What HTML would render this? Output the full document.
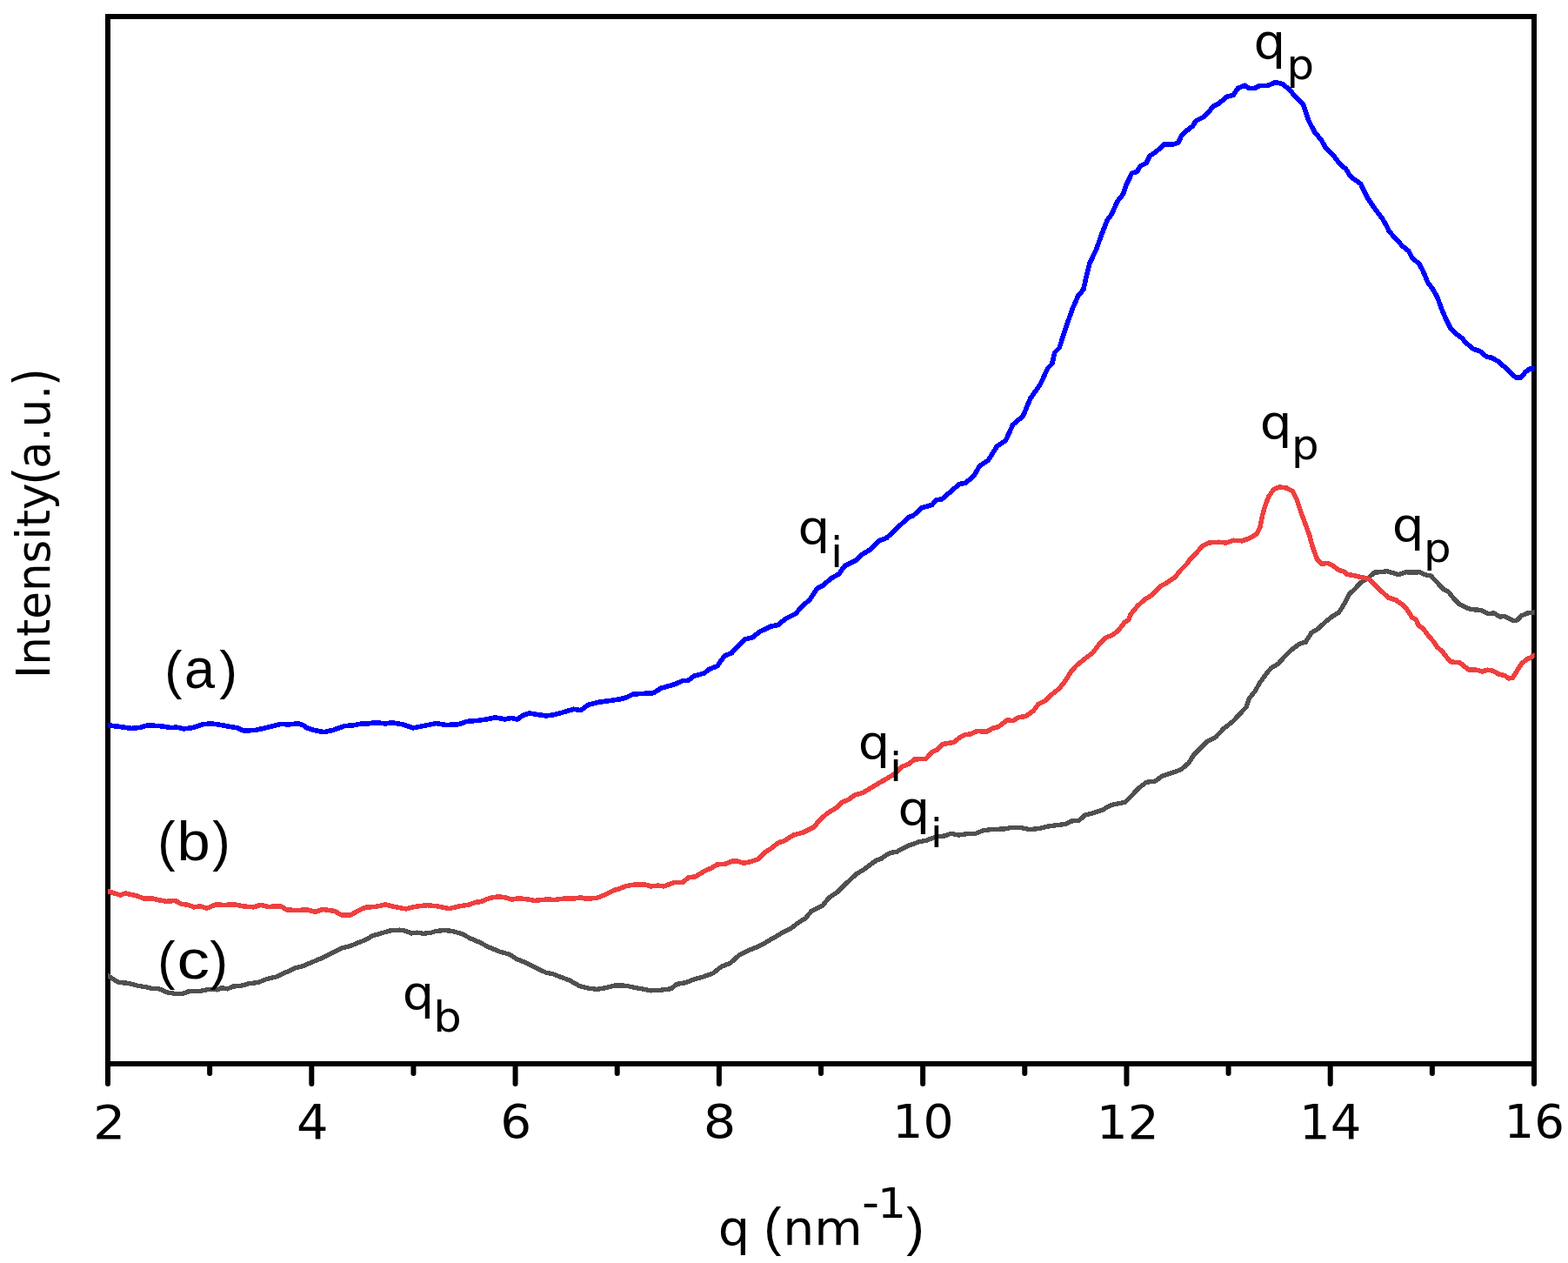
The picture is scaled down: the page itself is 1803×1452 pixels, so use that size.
<!DOCTYPE html>
<html lang="en">
<head>
<meta charset="utf-8">
<title>Intensity vs q</title>
<style>
html,body{margin:0;padding:0;background:#ffffff;}
body{width:1803px;height:1452px;overflow:hidden;font-family:'DejaVu Sans','Liberation Sans',sans-serif;}
svg{display:block;}
svg text{fill:#000000;}
</style>
</head>
<body>
<svg width="1803" height="1452" viewBox="0 0 1803 1452">
<rect x="0" y="0" width="1803" height="1452" fill="#ffffff"/>
<g id="axes" fill="none" stroke="#000000" stroke-width="6">
<rect x="124.0" y="19.0" width="1640.0" height="1204.0" stroke-linejoin="miter"/>
<g stroke-linecap="round">
<line x1="124.00" y1="1223.0" x2="124.00" y2="1246.0"/>
<line x1="241.14" y1="1223.0" x2="241.14" y2="1234.0"/>
<line x1="358.29" y1="1223.0" x2="358.29" y2="1246.0"/>
<line x1="475.43" y1="1223.0" x2="475.43" y2="1234.0"/>
<line x1="592.57" y1="1223.0" x2="592.57" y2="1246.0"/>
<line x1="709.71" y1="1223.0" x2="709.71" y2="1234.0"/>
<line x1="826.86" y1="1223.0" x2="826.86" y2="1246.0"/>
<line x1="944.00" y1="1223.0" x2="944.00" y2="1234.0"/>
<line x1="1061.14" y1="1223.0" x2="1061.14" y2="1246.0"/>
<line x1="1178.29" y1="1223.0" x2="1178.29" y2="1234.0"/>
<line x1="1295.43" y1="1223.0" x2="1295.43" y2="1246.0"/>
<line x1="1412.57" y1="1223.0" x2="1412.57" y2="1234.0"/>
<line x1="1529.71" y1="1223.0" x2="1529.71" y2="1246.0"/>
<line x1="1646.86" y1="1223.0" x2="1646.86" y2="1234.0"/>
<line x1="1764.00" y1="1223.0" x2="1764.00" y2="1246.0"/>
</g>
</g>
<defs><clipPath id="plotclip"><rect x="124" y="19" width="1640.6" height="1204"/></clipPath></defs>
<g id="curves" shape-rendering="crispEdges" clip-path="url(#plotclip)">
<polyline points="120.2,1120.2 124.2,1121.6 130.0,1125.7 136.6,1129.6 146.6,1130.2 158.3,1133.2 168.3,1134.9 174.9,1136.5 183.2,1136.9 191.5,1140.7 203.2,1142.7 211.5,1142.0 216.5,1139.9 229.8,1139.5 239.8,1137.4 249.8,1137.9 254.8,1135.7 261.4,1136.9 268.1,1134.0 276.4,1133.5 286.4,1130.7 296.4,1129.6 306.4,1125.7 318.0,1122.9 328.0,1118.2 339.6,1112.9 348.0,1110.7 359.6,1105.8 369.6,1101.6 379.6,1096.9 392.9,1090.0 402.9,1087.5 412.8,1083.3 420.0,1080.8 428.3,1075.8 438.3,1073.0 448.3,1070.0 459.9,1069.1 466.6,1070.3 473.2,1073.0 479.9,1072.1 486.6,1073.3 494.9,1072.5 501.5,1070.3 511.5,1069.6 519.8,1070.3 531.5,1073.8 541.5,1079.1 551.4,1083.3 561.4,1088.6 574.7,1094.1 586.4,1097.4 594.7,1102.9 604.7,1106.6 613.0,1111.1 628.0,1118.2 636.3,1119.9 644.6,1123.2 654.6,1126.9 666.3,1133.5 676.2,1136.0 686.2,1137.4 696.2,1135.7 707.9,1132.9 720.0,1133.2 730.0,1135.5 740.0,1137.2 748.3,1138.9 758.3,1138.4 771.6,1136.7 778.2,1131.4 788.2,1129.7 798.2,1125.9 808.2,1123.1 819.8,1118.9 829.8,1111.1 839.8,1107.3 849.8,1098.1 861.4,1092.3 869.8,1089.0 879.7,1084.0 889.7,1078.1 899.7,1072.3 909.7,1067.3 918.0,1060.7 926.3,1055.7 933.0,1047.4 946.3,1040.7 952.9,1032.4 962.9,1025.7 972.9,1015.7 984.6,1004.9 992.9,999.9 1002.9,992.4 1007.9,989.1 1012.8,987.5 1020.0,982.5 1024.2,980.4 1031.3,979.2 1041.9,973.3 1056.1,968.0 1065.0,966.3 1075.7,962.2 1086.3,960.9 1093.4,958.3 1102.3,960.0 1112.9,958.6 1121.8,958.3 1130.7,954.7 1141.3,953.5 1155.5,952.9 1164.4,951.2 1173.3,951.5 1183.9,953.5 1194.6,952.6 1203.5,950.3 1215.9,948.5 1224.8,947.6 1231.9,944.1 1240.7,943.2 1247.8,937.0 1258.5,934.3 1267.3,931.3 1278.0,925.4 1286.9,923.7 1294.0,921.9 1301.1,914.8 1310.0,905.5 1318.3,899.3 1328.3,898.0 1336.6,892.1 1346.6,888.8 1358.2,884.7 1366.6,877.2 1373.2,867.2 1383.2,857.2 1388.2,852.2 1398.2,847.2 1406.5,838.1 1418.1,828.9 1426.5,819.8 1433.1,813.1 1436.4,803.1 1443.1,794.8 1448.1,785.7 1454.7,776.5 1461.4,768.2 1469.7,763.2 1478.0,754.0 1484.7,747.4 1494.7,739.9 1501.3,738.2 1508.0,727.4 1516.3,722.4 1523.0,715.8 1531.3,709.1 1539.6,704.1 1546.3,693.3 1551.2,683.3 1557.4,677.6 1564.6,669.7 1573.3,664.6 1580.5,658.1 1587.7,657.7 1594.9,656.7 1602.1,658.8 1607.9,660.6 1616.5,657.8 1625.2,658.1 1632.4,657.8 1639.6,661.0 1645.4,662.0 1652.6,669.7 1659.8,677.6 1665.6,680.5 1671.3,687.7 1678.6,694.9 1687.2,699.2 1693.0,700.7 1703.1,701.4 1711.7,705.7 1717.5,704.7 1724.7,709.0 1730.5,708.6 1740.6,713.6 1744.9,712.9 1749.2,707.9 1756.4,705.0 1764.4,704.0 1768.4,703.8" fill="none" stroke="#505050" stroke-width="5.3" stroke-linejoin="round" stroke-linecap="butt"/>
<polyline points="120.2,1024.0 124.2,1024.6 131.6,1027.0 138.3,1029.1 144.1,1027.0 156.6,1029.6 164.9,1032.8 174.9,1032.8 183.2,1034.9 191.5,1036.3 201.5,1035.4 208.2,1039.1 216.5,1040.4 223.2,1042.9 229.8,1041.9 238.1,1044.1 248.1,1039.9 258.1,1040.4 269.8,1039.9 279.7,1041.9 291.4,1042.9 299.7,1040.4 308.0,1042.4 323.0,1041.9 329.7,1045.8 341.3,1046.6 352.9,1045.8 362.9,1048.3 371.2,1045.4 384.6,1047.4 392.9,1052.1 402.9,1052.1 411.2,1047.4 420.0,1043.3 431.6,1042.4 443.3,1039.9 453.3,1042.4 466.6,1044.9 476.6,1042.4 491.5,1040.7 503.2,1041.9 516.5,1044.6 528.2,1041.9 539.8,1039.9 546.5,1037.4 553.1,1036.6 563.1,1032.4 573.1,1030.8 581.4,1031.9 588.1,1034.1 596.4,1032.8 608.0,1034.1 614.7,1035.4 623.0,1034.6 631.3,1033.8 636.3,1034.6 649.6,1032.9 661.3,1032.9 667.9,1031.9 672.9,1033.3 686.2,1032.4 694.5,1029.1 706.2,1023.3 712.8,1021.6 720.0,1018.6 730.0,1016.9 741.6,1016.9 748.3,1018.9 756.6,1018.1 763.3,1018.9 774.9,1014.7 784.9,1014.7 791.5,1008.9 799.9,1007.7 809.9,1001.4 818.2,997.8 824.8,993.9 834.8,993.1 841.5,990.1 848.1,990.1 854.8,992.3 863.1,990.6 871.4,987.8 879.7,979.8 886.4,975.6 894.7,969.0 901.4,966.8 913.0,959.8 923.0,957.3 936.3,950.7 941.3,944.0 951.3,934.9 961.3,929.0 967.9,922.4 974.6,919.9 982.9,914.1 992.9,911.1 1002.9,904.9 1012.8,899.1 1020.0,894.9 1028.3,890.0 1036.6,881.7 1045.0,878.3 1051.6,873.0 1064.9,872.2 1071.6,864.7 1078.2,861.7 1084.1,855.5 1096.5,853.4 1103.2,848.1 1109.9,844.7 1116.5,843.9 1123.2,840.6 1134.8,841.1 1141.5,837.2 1148.1,835.6 1158.1,827.8 1164.8,828.6 1171.4,824.8 1179.7,823.4 1188.1,817.3 1193.9,809.8 1203.0,804.8 1209.7,798.1 1218.0,791.5 1224.7,783.2 1231.3,772.3 1238.0,764.9 1246.3,758.2 1256.3,750.7 1264.6,739.9 1271.2,733.2 1279.6,729.9 1286.2,724.6 1292.9,715.8 1297.9,712.4 1300.0,706.4 1308.3,696.4 1316.6,688.9 1325.0,683.9 1333.3,674.8 1343.3,668.9 1351.6,663.1 1356.6,656.5 1364.9,648.1 1368.2,643.1 1374.9,636.5 1383.2,627.3 1389.9,624.0 1401.5,623.2 1409.8,624.0 1418.1,621.2 1428.1,621.8 1436.4,619.0 1444.8,614.0 1448.9,606.5 1451.4,593.2 1454.7,581.6 1458.9,570.8 1464.7,562.4 1471.4,560.0 1479.7,561.1 1486.4,564.9 1491.3,574.9 1496.3,589.9 1501.3,603.2 1505.5,614.9 1509.7,629.8 1514.6,643.1 1519.6,648.5 1527.1,647.3 1532.9,650.6 1539.6,655.6 1546.3,657.3 1548.8,660.3 1557.4,661.7 1564.6,663.5 1573.3,665.3 1580.5,671.8 1587.7,679.0 1596.4,687.0 1605.0,689.8 1612.2,694.9 1618.0,700.7 1623.8,710.0 1628.1,712.2 1631.0,718.7 1636.7,723.0 1642.5,730.9 1648.3,737.4 1652.6,743.9 1658.4,749.0 1664.1,756.2 1668.5,760.9 1678.6,761.9 1688.6,769.9 1698.7,770.3 1704.5,772.0 1710.3,770.2 1716.0,771.0 1723.3,774.9 1730.5,776.8 1734.8,780.0 1739.1,779.3 1743.4,772.8 1749.2,763.4 1755.0,758.3 1760.7,755.5 1764.4,753.3 1768.4,752.1" fill="none" stroke="#ef3f3f" stroke-width="5.5" stroke-linejoin="round" stroke-linecap="butt"/>
<polyline points="120.2,833.6 124.2,833.8 136.6,835.3 151.6,837.4 161.6,836.3 169.9,833.8 186.6,834.9 196.5,836.6 203.2,836.1 211.5,837.9 221.5,836.6 233.1,832.8 243.1,831.9 253.1,833.3 266.4,835.8 273.1,836.9 279.7,839.9 293.0,839.6 306.4,836.6 323.0,832.4 331.3,832.9 343.0,831.9 348.0,833.3 352.9,836.9 362.9,839.9 372.9,841.6 382.9,839.4 396.2,834.6 406.2,833.8 416.2,831.9 420.0,832.4 431.6,830.7 443.3,831.9 450.8,830.7 463.3,832.9 474.9,836.9 486.6,834.6 501.5,831.6 513.2,833.6 528.2,832.6 536.5,829.4 549.8,828.3 559.8,826.9 569.8,824.9 580.6,826.9 588.1,825.4 594.7,827.1 601.4,822.4 608.9,819.9 616.3,821.3 628.0,822.9 636.3,821.9 649.6,818.3 659.6,815.3 667.9,816.6 676.2,810.3 689.6,807.1 702.9,805.3 712.8,803.8 720.0,802.0 728.3,798.0 751.6,796.7 759.9,791.3 776.6,786.4 784.9,782.7 791.5,782.2 798.2,777.2 809.9,773.9 814.8,769.7 824.8,765.6 833.1,753.9 841.5,750.6 846.5,744.8 856.4,734.8 864.8,733.1 873.1,726.5 886.4,720.1 894.7,718.5 903.0,711.5 914.7,705.7 921.3,698.2 931.3,689.0 939.6,676.5 946.3,673.2 954.6,665.7 964.6,659.9 971.2,650.7 984.6,644.1 991.2,637.4 1001.2,631.6 1011.2,621.6 1020.0,618.3 1020.0,617.9 1033.3,605.5 1044.9,594.6 1049.9,593.0 1059.9,583.8 1071.6,580.5 1076.6,575.0 1083.2,573.8 1089.9,568.0 1103.2,556.4 1109.8,555.5 1119.8,547.2 1126.5,535.6 1136.5,528.9 1146.4,513.1 1156.4,506.5 1164.7,488.2 1176.4,478.2 1184.7,458.2 1196.4,441.6 1204.7,423.3 1209.7,418.3 1213.0,405.0 1218.0,400.0 1224.6,380.0 1227.5,371.3 1233.3,354.7 1239.9,339.7 1245.8,333.0 1249.1,318.1 1253.2,302.2 1260.7,286.4 1266.6,269.8 1273.2,253.2 1278.2,246.5 1284.9,231.5 1291.5,223.2 1294.8,213.2 1301.5,199.1 1307.3,197.4 1311.5,190.8 1318.1,187.4 1322.3,179.1 1329.8,174.1 1338.9,165.8 1340.0,165.7 1348.3,166.2 1355.0,164.0 1358.3,156.5 1365.0,149.9 1371.6,144.9 1374.9,139.1 1383.3,134.9 1388.3,130.7 1394.9,122.4 1401.6,119.1 1409.9,111.6 1418.2,109.1 1423.2,101.6 1431.5,98.3 1436.5,101.6 1443.2,101.3 1448.2,98.6 1458.1,98.3 1466.5,94.6 1474.8,96.6 1483.1,103.3 1489.8,111.6 1498.1,119.1 1504.7,138.2 1511.4,151.5 1519.7,161.5 1524.7,170.7 1533.0,178.2 1539.7,187.3 1548.0,194.8 1553.0,203.1 1564.6,211.4 1572.9,228.1 1579.6,238.1 1589.6,251.4 1594.6,260.0 1597.4,266.2 1607.1,276.6 1612.6,282.9 1619.6,288.4 1623.7,296.1 1632.0,303.7 1636.2,311.3 1641.7,324.5 1647.3,332.1 1652.8,341.8 1658.4,357.1 1663.9,369.5 1668.1,377.9 1673.6,383.4 1680.6,388.3 1686.1,394.5 1694.4,401.4 1701.4,403.5 1709.7,410.4 1715.2,411.1 1723.5,416.0 1731.9,423.6 1738.8,429.9 1743.0,434.0 1748.5,434.0 1754.1,427.8 1758.2,424.3 1764.9,423.6 1768.9,423.4" fill="none" stroke="#0000ff" stroke-width="5.6" stroke-linejoin="round" stroke-linecap="butt"/>
</g>
<g id="labels">
<text class="tick"><tspan x="106.90" y="1308.80" font-family="'DejaVu Sans','Liberation Sans',sans-serif" font-size="53.78" textLength="37.35" lengthAdjust="spacingAndGlyphs">2</tspan></text>
<text class="tick"><tspan x="340.96" y="1308.80" font-family="'DejaVu Sans','Liberation Sans',sans-serif" font-size="54.90" textLength="36.61" lengthAdjust="spacingAndGlyphs">4</tspan></text>
<text class="tick"><tspan x="575.17" y="1308.01" font-family="'DejaVu Sans','Liberation Sans',sans-serif" font-size="52.72" textLength="35.91" lengthAdjust="spacingAndGlyphs">6</tspan></text>
<text class="tick"><tspan x="808.78" y="1308.01" font-family="'DejaVu Sans','Liberation Sans',sans-serif" font-size="52.72" textLength="37.54" lengthAdjust="spacingAndGlyphs">8</tspan></text>
<text class="tick"><tspan x="1026.32" y="1308.01" font-family="'DejaVu Sans','Liberation Sans',sans-serif" font-size="52.72" textLength="70.31" lengthAdjust="spacingAndGlyphs">10</tspan></text>
<text class="tick"><tspan x="1260.70" y="1308.80" font-family="'DejaVu Sans','Liberation Sans',sans-serif" font-size="53.78" textLength="72.03" lengthAdjust="spacingAndGlyphs">12</tspan></text>
<text class="tick"><tspan x="1494.04" y="1308.80" font-family="'DejaVu Sans','Liberation Sans',sans-serif" font-size="54.52" textLength="71.40" lengthAdjust="spacingAndGlyphs">14</tspan></text>
<text class="tick"><tspan x="1729.50" y="1308.01" font-family="'DejaVu Sans','Liberation Sans',sans-serif" font-size="52.72" textLength="69.41" lengthAdjust="spacingAndGlyphs">16</tspan></text>
<text class="xlabel"><tspan x="825.85" y="1430.70" font-family="'DejaVu Sans','Liberation Sans',sans-serif" font-size="54.29" textLength="36.41" lengthAdjust="spacingAndGlyphs">q</tspan><tspan> </tspan><tspan x="878.35" y="1430.70" font-family="'Liberation Sans','DejaVu Sans',sans-serif" font-size="61.93" textLength="20.24" lengthAdjust="spacingAndGlyphs">(</tspan><tspan x="900.28" y="1431.30" font-family="'DejaVu Sans','Liberation Sans',sans-serif" font-size="55.36" textLength="91.55" lengthAdjust="spacingAndGlyphs">nm</tspan><tspan x="991.01" y="1399.54" font-family="'DejaVu Sans','Liberation Sans',sans-serif" font-size="51.25" textLength="20.13" lengthAdjust="spacingAndGlyphs">-</tspan><tspan x="1008.99" y="1399.80" font-family="'DejaVu Sans','Liberation Sans',sans-serif" font-size="47.12" textLength="33.06" lengthAdjust="spacingAndGlyphs">1</tspan><tspan x="1042.28" y="1430.70" font-family="'Liberation Sans','DejaVu Sans',sans-serif" font-size="61.93" textLength="20.63" lengthAdjust="spacingAndGlyphs">)</tspan></text>
<text class="ylabel" transform="translate(0 774.8) rotate(-90)"><tspan x="-5.16" y="56.65" font-family="'DejaVu Sans','Liberation Sans',sans-serif" font-size="53.09" textLength="224.54" lengthAdjust="spacingAndGlyphs">Intensity</tspan><tspan x="216.82" y="59.81" font-family="'DejaVu Sans','Liberation Sans',sans-serif" font-size="61.46" textLength="21.50" lengthAdjust="spacingAndGlyphs">(</tspan><tspan x="236.15" y="56.80" font-family="'DejaVu Sans','Liberation Sans',sans-serif" font-size="53.39" textLength="95.82" lengthAdjust="spacingAndGlyphs">a.u.</tspan><tspan x="330.93" y="59.81" font-family="'DejaVu Sans','Liberation Sans',sans-serif" font-size="61.46" textLength="20.81" lengthAdjust="spacingAndGlyphs">)</tspan></text>
<text class="peak"><tspan x="1441.61" y="66.50" font-family="'DejaVu Sans','Liberation Sans',sans-serif" font-size="54.29" textLength="36.80" lengthAdjust="spacingAndGlyphs">q</tspan><tspan x="1479.42" y="90.94" font-family="'DejaVu Sans','Liberation Sans',sans-serif" font-size="47.92" textLength="31.61" lengthAdjust="spacingAndGlyphs">p</tspan></text>
<text class="peak"><tspan x="1448.71" y="503.54" font-family="'DejaVu Sans','Liberation Sans',sans-serif" font-size="53.64" textLength="36.80" lengthAdjust="spacingAndGlyphs">q</tspan><tspan x="1485.12" y="527.90" font-family="'DejaVu Sans','Liberation Sans',sans-serif" font-size="47.14" textLength="31.61" lengthAdjust="spacingAndGlyphs">p</tspan></text>
<text class="peak"><tspan x="1600.71" y="621.58" font-family="'DejaVu Sans','Liberation Sans',sans-serif" font-size="53.90" textLength="36.80" lengthAdjust="spacingAndGlyphs">q</tspan><tspan x="1637.12" y="645.93" font-family="'DejaVu Sans','Liberation Sans',sans-serif" font-size="47.01" textLength="31.61" lengthAdjust="spacingAndGlyphs">p</tspan></text>
<text class="peak"><tspan x="917.61" y="625.44" font-family="'DejaVu Sans','Liberation Sans',sans-serif" font-size="53.64" textLength="36.80" lengthAdjust="spacingAndGlyphs">q</tspan><tspan x="954.94" y="651.80" font-family="'DejaVu Sans','Liberation Sans',sans-serif" font-size="47.24" textLength="14.21" lengthAdjust="spacingAndGlyphs">i</tspan></text>
<text class="peak"><tspan x="986.73" y="871.58" font-family="'DejaVu Sans','Liberation Sans',sans-serif" font-size="53.90" textLength="36.54" lengthAdjust="spacingAndGlyphs">q</tspan><tspan x="1022.94" y="897.80" font-family="'DejaVu Sans','Liberation Sans',sans-serif" font-size="46.97" textLength="14.21" lengthAdjust="spacingAndGlyphs">i</tspan></text>
<text class="peak"><tspan x="1032.51" y="948.15" font-family="'DejaVu Sans','Liberation Sans',sans-serif" font-size="52.60" textLength="36.80" lengthAdjust="spacingAndGlyphs">q</tspan><tspan x="1069.84" y="974.20" font-family="'DejaVu Sans','Liberation Sans',sans-serif" font-size="45.53" textLength="14.21" lengthAdjust="spacingAndGlyphs">i</tspan></text>
<text class="peak"><tspan x="462.85" y="1159.68" font-family="'DejaVu Sans','Liberation Sans',sans-serif" font-size="53.90" textLength="36.41" lengthAdjust="spacingAndGlyphs">q</tspan><tspan x="498.39" y="1185.77" font-family="'DejaVu Sans','Liberation Sans',sans-serif" font-size="48.65" textLength="32.52" lengthAdjust="spacingAndGlyphs">b</tspan></text>
<text class="series"><tspan x="189.25" y="790.90" font-family="'Liberation Sans','DejaVu Sans',sans-serif" font-size="61.93" textLength="20.24" lengthAdjust="spacingAndGlyphs">(</tspan><tspan x="211.96" y="791.46" font-family="'Liberation Sans','DejaVu Sans',sans-serif" font-size="64.18" textLength="35.12" lengthAdjust="spacingAndGlyphs">a</tspan><tspan x="252.28" y="790.90" font-family="'Liberation Sans','DejaVu Sans',sans-serif" font-size="61.93" textLength="20.76" lengthAdjust="spacingAndGlyphs">)</tspan></text>
<text class="series"><tspan x="181.25" y="988.77" font-family="'Liberation Sans','DejaVu Sans',sans-serif" font-size="62.03" textLength="20.24" lengthAdjust="spacingAndGlyphs">(</tspan><tspan x="203.64" y="989.47" font-family="'Liberation Sans','DejaVu Sans',sans-serif" font-size="62.99" textLength="38.20" lengthAdjust="spacingAndGlyphs">b</tspan><tspan x="244.28" y="988.77" font-family="'Liberation Sans','DejaVu Sans',sans-serif" font-size="62.03" textLength="20.50" lengthAdjust="spacingAndGlyphs">)</tspan></text>
<text class="series"><tspan x="181.25" y="1124.82" font-family="'Liberation Sans','DejaVu Sans',sans-serif" font-size="61.82" textLength="20.24" lengthAdjust="spacingAndGlyphs">(</tspan><tspan x="203.43" y="1125.46" font-family="'Liberation Sans','DejaVu Sans',sans-serif" font-size="63.82" textLength="37.44" lengthAdjust="spacingAndGlyphs">c</tspan><tspan x="241.17" y="1124.82" font-family="'Liberation Sans','DejaVu Sans',sans-serif" font-size="61.82" textLength="20.88" lengthAdjust="spacingAndGlyphs">)</tspan></text>
</g>
</svg>
</body>
</html>
